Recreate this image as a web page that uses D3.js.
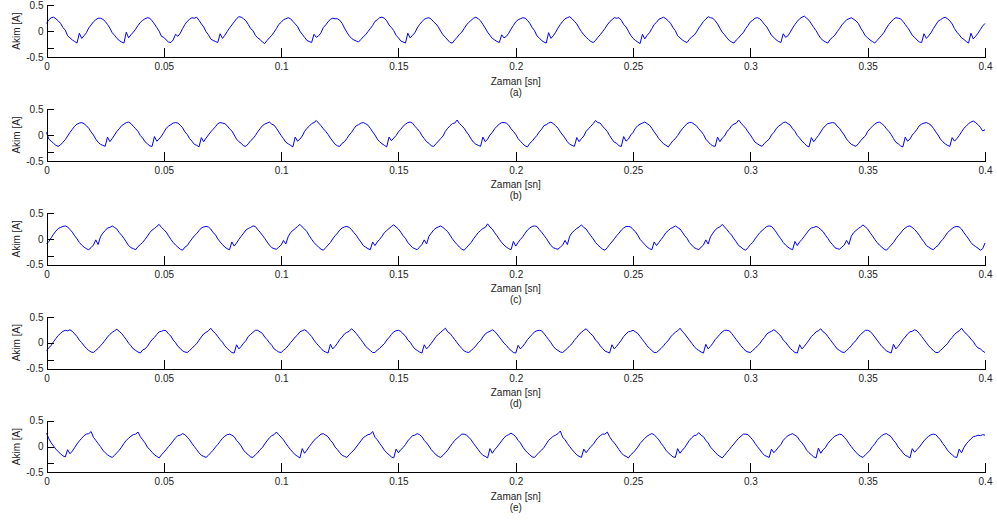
<!DOCTYPE html>
<html>
<head>
<meta charset="utf-8">
<script src="https://cdn.jsdelivr.net/npm/d3@7"></script>
<style>
  body { margin: 0; background: #fff; }
  svg { display: block; font-family: "Liberation Sans", Arial, sans-serif; }
  .axis text { font-size: 10px; fill: #222; }
  .axis path, .axis line { stroke: #000; shape-rendering: crispEdges; }
</style>
</head>
<body>
<script>
// sampling step of the measured current (s)
const dt = 0.001;

const xTicks = [0, 0.05, 0.1, 0.15, 0.2, 0.25, 0.3, 0.35, 0.4];
const yTicks = [-0.5, 0, 0.5];
const panelLabels = ['(a)', '(b)', '(c)', '(d)', '(e)'];

// one row = 20 ms (one cycle), values in A
const currentA = [
  .15,.22,.26,.27,.24,.20,.15,.07,.02,-.09,-.13,-.17,-.20,-.23,-.04,-.14,-.09,-.03,.06,.12,
  .18,.22,.25,.25,.23,.19,.13,.06,-.03,-.08,-.14,-.18,-.21,-.23,-.02,-.13,-.07,-.02,.04,.11,
  .17,.21,.24,.26,.25,.20,.14,.07,.00,-.10,-.12,-.17,-.21,-.22,-.17,-.06,-.10,-.04,.05,.13,
  .19,.23,.26,.25,.27,.21,.14,.08,-.01,-.07,-.15,-.18,-.20,-.22,-.05,-.14,-.08,-.01,.06,.12,
  .18,.24,.28,.27,.24,.20,.13,.05,.01,-.08,-.13,-.16,-.21,-.24,-.18,-.13,-.08,-.02,.05,.13,
  .17,.22,.24,.26,.24,.19,.14,.09,.00,-.06,-.12,-.18,-.20,-.22,-.06,-.12,-.09,-.03,.07,.12,
  .18,.23,.25,.24,.24,.21,.15,.06,-.02,-.09,-.14,-.17,-.19,-.21,-.16,-.11,-.07,-.01,.05,.11,
  .19,.22,.26,.27,.25,.20,.12,.07,.01,-.08,-.13,-.19,-.21,-.23,-.04,-.13,-.08,-.03,.06,.13,
  .18,.23,.25,.26,.23,.18,.14,.08,.00,-.07,-.12,-.17,-.22,-.23,-.17,-.12,-.06,-.02,.05,.12,
  .17,.21,.25,.27,.24,.20,.13,.06,-.02,-.08,-.14,-.17,-.20,-.22,-.07,-.13,-.10,-.04,.04,.11,
  .18,.22,.24,.26,.25,.21,.15,.07,.01,-.09,-.13,-.18,-.21,-.23,-.03,-.14,-.09,-.02,.06,.13,
  .19,.24,.26,.28,.24,.19,.14,.06,-.01,-.07,-.12,-.16,-.20,-.22,-.18,-.12,-.07,-.01,.05,.12,
  .18,.22,.26,.25,.26,.21,.13,.08,.00,-.08,-.14,-.18,-.21,-.24,-.06,-.15,-.08,-.03,.05,.13,
  .17,.23,.25,.27,.24,.20,.15,.07,.01,-.09,-.13,-.17,-.20,-.22,-.16,-.11,-.08,-.02,.06,.12,
  .19,.23,.28,.26,.25,.20,.14,.06,-.02,-.07,-.13,-.18,-.21,-.23,-.17,-.13,-.07,-.03,.05,.11,
  .18,.21,.25,.26,.24,.19,.13,.08,.00,-.08,-.12,-.17,-.20,-.22,-.05,-.12,-.09,-.02,.06,.13,
  .19,.24,.27,.29,.25,.21,.14,.07,.01,-.07,-.14,-.18,-.21,-.23,-.16,-.12,-.08,-.01,.05,.12,
  .17,.22,.24,.26,.23,.20,.15,.06,-.01,-.09,-.13,-.17,-.20,-.23,-.18,-.13,-.08,-.02,.06,.13,
  .18,.23,.26,.25,.24,.19,.13,.07,.00,-.08,-.12,-.17,-.21,-.22,-.05,-.14,-.09,-.03,.05,.12,
  .19,.22,.25,.27,.24,.20,.14,.05,-.02,-.07,-.13,-.16,-.20,-.23,-.04,-.15,-.10,-.04,.03,.10,
  .15
];

const currentB = [
  .05,-.08,-.12,-.16,-.20,-.22,-.19,-.14,-.09,-.02,.05,.11,.17,.21,.23,.24,.22,.18,.13,.06,
  .00,-.08,-.14,-.18,-.20,-.22,-.04,-.13,-.07,.00,.07,.12,.18,.21,.24,.25,.22,.17,.12,.07,
  -.01,-.06,-.13,-.17,-.21,-.22,-.03,-.12,-.08,-.02,.05,.13,.17,.20,.23,.24,.23,.19,.14,.06,
  .01,-.07,-.12,-.18,-.20,-.23,-.05,-.13,-.06,.00,.06,.11,.16,.22,.24,.23,.22,.18,.12,.08,
  .00,-.08,-.13,-.16,-.21,-.22,-.17,-.11,-.07,-.01,.06,.12,.18,.21,.23,.25,.21,.19,.13,.06,
  -.01,-.07,-.14,-.17,-.20,-.23,-.04,-.12,-.08,-.02,.07,.13,.17,.22,.24,.28,.23,.18,.12,.07,
  .01,-.06,-.12,-.18,-.21,-.22,-.16,-.13,-.07,.00,.05,.12,.18,.20,.23,.24,.22,.19,.13,.06,
  .00,-.08,-.13,-.17,-.20,-.23,-.04,-.11,-.06,-.01,.06,.11,.17,.21,.24,.25,.23,.17,.12,.07,
  -.01,-.07,-.13,-.16,-.21,-.22,-.17,-.12,-.07,-.02,.07,.13,.18,.22,.23,.29,.22,.18,.13,.06,
  .00,-.08,-.14,-.18,-.20,-.22,-.04,-.13,-.08,.00,.05,.12,.17,.21,.24,.24,.23,.19,.12,.07,
  .01,-.07,-.12,-.17,-.21,-.23,-.16,-.12,-.06,-.01,.06,.11,.18,.20,.23,.25,.22,.18,.13,.06,
  .00,-.06,-.13,-.18,-.20,-.22,-.05,-.13,-.07,-.02,.07,.12,.17,.22,.28,.24,.23,.17,.12,.07,
  -.01,-.08,-.14,-.16,-.21,-.22,-.03,-.12,-.08,.00,.05,.13,.18,.21,.23,.25,.22,.19,.13,.06,
  .00,-.07,-.12,-.17,-.20,-.23,-.17,-.11,-.07,-.01,.06,.12,.17,.22,.24,.24,.21,.18,.12,.07,
  .01,-.08,-.13,-.18,-.21,-.22,-.04,-.13,-.06,-.02,.07,.11,.18,.21,.23,.29,.23,.18,.13,.06,
  .00,-.07,-.14,-.17,-.20,-.22,-.16,-.12,-.08,.00,.05,.12,.17,.20,.24,.25,.22,.19,.12,.07,
  -.01,-.06,-.12,-.16,-.21,-.23,-.05,-.13,-.07,-.01,.06,.13,.18,.22,.23,.24,.23,.17,.13,.06,
  .00,-.08,-.13,-.18,-.20,-.22,-.17,-.11,-.06,-.02,.07,.12,.17,.21,.24,.25,.22,.18,.12,.07,
  .01,-.07,-.14,-.17,-.21,-.23,-.04,-.12,-.08,.00,.05,.11,.18,.21,.23,.24,.22,.19,.13,.06,
  .00,-.08,-.13,-.17,-.20,-.22,-.05,-.12,-.07,-.01,.06,.13,.17,.22,.25,.27,.24,.20,.15,.08,
  .10
];

const currentC = [
  -.10,-.05,.02,.09,.15,.20,.22,.24,.25,.23,.18,.13,.06,.00,-.07,-.12,-.16,-.19,-.21,-.17,
  -.12,-.02,-.11,.04,.11,.16,.21,.22,.25,.22,.19,.12,.07,.01,-.06,-.13,-.17,-.19,-.21,-.15,
  -.11,-.07,-.01,.05,.12,.17,.20,.24,.28,.22,.18,.13,.06,-.01,-.07,-.12,-.16,-.20,-.22,-.16,
  -.13,-.06,.00,.06,.10,.16,.21,.23,.24,.23,.19,.12,.08,.00,-.06,-.11,-.16,-.19,-.21,-.06,
  -.14,-.08,-.01,.05,.11,.17,.20,.22,.25,.24,.18,.13,.07,.01,-.06,-.12,-.17,-.19,-.20,-.16,
  -.12,-.03,-.10,.04,.12,.16,.20,.24,.28,.23,.19,.14,.06,-.01,-.07,-.12,-.16,-.20,-.22,-.17,
  -.12,-.07,.00,.06,.11,.17,.21,.23,.24,.22,.18,.12,.07,.00,-.06,-.13,-.16,-.19,-.21,-.06,
  -.13,-.06,-.01,.05,.12,.16,.20,.24,.27,.23,.19,.13,.06,.01,-.07,-.12,-.17,-.19,-.21,-.16,
  -.11,-.02,-.10,.05,.11,.17,.21,.23,.25,.22,.18,.14,.07,.00,-.06,-.11,-.16,-.20,-.22,-.17,
  -.12,-.07,.00,.06,.12,.16,.20,.22,.29,.23,.19,.12,.06,-.01,-.07,-.12,-.16,-.19,-.21,-.05,
  -.14,-.07,-.01,.04,.11,.17,.21,.24,.25,.24,.18,.13,.07,.01,-.06,-.13,-.17,-.19,-.20,-.16,
  -.12,-.03,-.11,.05,.12,.16,.20,.23,.27,.22,.19,.12,.06,.00,-.07,-.12,-.16,-.20,-.22,-.17,
  -.11,-.06,.00,.06,.11,.17,.21,.24,.24,.23,.18,.14,.07,-.01,-.06,-.11,-.16,-.19,-.21,-.06,
  -.13,-.07,-.01,.05,.12,.16,.20,.22,.25,.22,.19,.13,.06,.01,-.07,-.12,-.17,-.19,-.21,-.16,
  -.12,-.02,-.10,.04,.11,.17,.21,.23,.28,.23,.18,.12,.07,.00,-.06,-.13,-.16,-.20,-.22,-.17,
  -.11,-.07,.00,.06,.12,.16,.20,.24,.25,.24,.19,.13,.06,.00,-.07,-.12,-.16,-.19,-.21,-.05,
  -.13,-.06,-.01,.05,.11,.17,.21,.22,.24,.22,.18,.14,.07,.01,-.06,-.11,-.17,-.19,-.20,-.16,
  -.12,-.03,-.11,.05,.12,.16,.20,.23,.27,.23,.19,.12,.06,-.01,-.07,-.12,-.16,-.20,-.22,-.17,
  -.12,-.07,.00,.06,.11,.17,.21,.24,.25,.22,.18,.13,.07,.00,-.06,-.13,-.16,-.19,-.21,-.16,
  -.13,-.06,-.01,.05,.12,.16,.20,.23,.24,.23,.19,.12,.06,.00,-.07,-.12,-.15,-.18,-.22,-.19,
  -.08
];

const currentD = [
  -.15,-.10,-.05,.02,.08,.14,.18,.22,.24,.23,.25,.22,.17,.12,.05,.00,-.06,-.11,-.15,-.18,
  -.19,-.15,-.11,-.06,-.01,.05,.11,.16,.20,.23,.26,.22,.18,.12,.06,-.01,-.06,-.12,-.15,-.18,
  -.20,-.14,-.12,-.07,.00,.06,.10,.16,.21,.22,.24,.23,.17,.13,.05,.00,-.07,-.11,-.16,-.18,
  -.19,-.15,-.11,-.06,-.02,.05,.11,.17,.20,.23,.28,.22,.18,.12,.06,.01,-.06,-.11,-.15,-.19,
  -.20,-.04,-.12,-.07,-.01,.04,.12,.16,.20,.24,.24,.21,.18,.11,.06,.00,-.05,-.12,-.15,-.18,
  -.19,-.15,-.11,-.06,.00,.05,.11,.15,.21,.23,.25,.22,.17,.12,.05,-.01,-.06,-.11,-.16,-.18,
  -.20,-.03,-.12,-.07,-.01,.06,.11,.17,.20,.22,.27,.23,.18,.12,.06,.00,-.07,-.11,-.15,-.19,
  -.19,-.14,-.11,-.06,-.02,.05,.10,.16,.21,.23,.24,.22,.17,.13,.05,.01,-.06,-.12,-.15,-.18,
  -.20,-.04,-.12,-.07,-.01,.05,.12,.16,.20,.24,.28,.21,.18,.12,.06,.00,-.06,-.11,-.16,-.18,
  -.19,-.15,-.11,-.06,.00,.04,.11,.17,.20,.22,.25,.22,.17,.11,.05,-.01,-.05,-.11,-.15,-.19,
  -.20,-.05,-.12,-.07,-.01,.06,.11,.16,.21,.23,.24,.23,.18,.12,.06,.00,-.07,-.12,-.15,-.18,
  -.19,-.15,-.11,-.06,-.02,.05,.10,.16,.20,.24,.27,.22,.17,.13,.05,.01,-.06,-.11,-.16,-.18,
  -.20,-.04,-.12,-.07,-.01,.05,.12,.17,.21,.22,.24,.21,.18,.12,.06,.00,-.06,-.11,-.15,-.19,
  -.19,-.15,-.11,-.06,.00,.04,.11,.16,.20,.23,.28,.22,.17,.11,.05,-.01,-.07,-.12,-.15,-.18,
  -.20,-.03,-.12,-.07,-.01,.06,.11,.16,.21,.24,.24,.23,.18,.12,.06,.00,-.06,-.11,-.16,-.18,
  -.19,-.15,-.11,-.06,-.02,.05,.10,.17,.20,.22,.25,.22,.17,.13,.05,.01,-.05,-.11,-.15,-.19,
  -.20,-.04,-.12,-.07,-.01,.05,.12,.16,.21,.23,.27,.21,.18,.12,.06,.00,-.06,-.12,-.15,-.18,
  -.19,-.15,-.11,-.06,.00,.04,.11,.16,.20,.24,.24,.22,.17,.11,.05,-.01,-.07,-.11,-.16,-.18,
  -.20,-.03,-.12,-.07,-.01,.06,.11,.17,.21,.22,.25,.23,.18,.12,.06,.00,-.06,-.11,-.15,-.19,
  -.19,-.15,-.11,-.06,-.02,.05,.10,.16,.20,.23,.28,.22,.17,.13,.07,.02,-.05,-.10,-.12,-.16,
  -.19
];

const currentE = [
  .26,.15,.07,.01,-.05,-.10,-.14,-.18,-.20,-.06,-.14,-.09,-.02,.05,.11,.16,.21,.24,.25,.29,
  .18,.12,.06,.00,-.07,-.12,-.16,-.19,-.21,-.17,-.12,-.07,-.01,.06,.12,.16,.20,.23,.24,.28,
  .19,.13,.07,-.01,-.06,-.11,-.16,-.19,-.22,-.16,-.11,-.06,.00,.05,.11,.17,.21,.22,.25,.23,
  .18,.13,.06,.00,-.06,-.12,-.17,-.19,-.21,-.17,-.12,-.07,-.01,.04,.10,.16,.20,.23,.24,.22,
  .19,.12,.07,.01,-.07,-.12,-.16,-.20,-.21,-.16,-.12,-.06,-.02,.05,.11,.17,.21,.23,.28,.23,
  .18,.13,.06,.00,-.06,-.11,-.16,-.19,-.22,-.04,-.13,-.07,.00,.06,.12,.16,.20,.24,.25,.22,
  .19,.12,.07,-.01,-.06,-.12,-.17,-.19,-.21,-.16,-.11,-.07,-.01,.05,.11,.17,.20,.23,.24,.29,
  .18,.13,.06,.00,-.07,-.12,-.16,-.20,-.22,-.05,-.12,-.06,-.02,.04,.11,.16,.21,.22,.25,.23,
  .19,.12,.07,.01,-.06,-.11,-.16,-.19,-.21,-.17,-.12,-.07,.00,.06,.12,.16,.20,.24,.24,.22,
  .18,.13,.06,.00,-.06,-.12,-.17,-.19,-.22,-.04,-.13,-.06,-.01,.05,.11,.17,.21,.23,.26,.23,
  .19,.12,.07,-.01,-.07,-.12,-.16,-.20,-.21,-.16,-.11,-.07,-.02,.05,.12,.16,.20,.22,.25,.30,
  .18,.13,.06,.00,-.06,-.11,-.16,-.19,-.21,-.05,-.12,-.06,.00,.04,.11,.17,.21,.24,.24,.28,
  .19,.12,.07,.01,-.06,-.12,-.17,-.19,-.22,-.16,-.12,-.07,-.01,.06,.11,.16,.20,.23,.25,.23,
  .18,.13,.06,.00,-.07,-.12,-.16,-.20,-.21,-.04,-.13,-.07,-.02,.05,.12,.17,.21,.22,.27,.22,
  .19,.12,.07,-.01,-.06,-.11,-.16,-.19,-.22,-.17,-.11,-.06,.00,.05,.11,.16,.20,.24,.24,.23,
  .18,.13,.06,.00,-.06,-.12,-.17,-.19,-.21,-.05,-.12,-.07,-.01,.04,.12,.17,.21,.23,.25,.22,
  .19,.12,.07,.01,-.07,-.12,-.16,-.20,-.22,-.03,-.13,-.06,-.02,.06,.11,.16,.20,.22,.24,.23,
  .18,.13,.06,.00,-.06,-.11,-.16,-.19,-.21,-.16,-.12,-.07,.00,.05,.12,.17,.21,.24,.25,.22,
  .19,.12,.07,-.01,-.06,-.12,-.17,-.19,-.22,-.04,-.11,-.06,-.01,.05,.11,.16,.20,.23,.24,.23,
  .18,.13,.06,.00,-.07,-.12,-.16,-.20,-.21,-.05,-.12,-.02,.05,.10,.15,.19,.20,.22,.21,.23,
  .22
];

const series = [currentA, currentB, currentC, currentD, currentE];

const svgWidth = 997;
const svgHeight = 521;

// plot area of the first panel, the others are stacked below
const left = 46.5, right = 985;
const firstTop = 5.3, panelH = 51.7, pitch = 103.85;

const svg = d3.select('body')
  .append('svg')
  .attr('width', svgWidth)
  .attr('height', svgHeight);

const x = d3.scaleLinear()
  .domain([0, 0.4])
  .range([left, right]);

const line = d3.line()
  .x((d, i) => x(i * dt))
  .y(d => d.y);

series.forEach(function(vals, k) {
  const top = firstTop + k * pitch;
  const bottom = top + panelH;

  const y = d3.scaleLinear()
    .domain([-0.5, 0.5])
    .range([bottom, top]);

  const g = svg.append('g').attr('class', 'panel');

  // waveform
  g.append('path')
    .datum(vals.map(v => ({y: y(v)})))
    .attr('fill', 'none')
    .attr('stroke', '#0000ff')
    .attr('stroke-width', 1)
    .attr('stroke-linejoin', 'round')
    .attr('d', line);

  // x axis, ticks pointing in
  g.append('g')
    .attr('class', 'axis')
    .attr('transform', 'translate(0,' + bottom + ')')
    .call(d3.axisBottom(x)
      .tickValues(xTicks)
      .tickFormat(d => String(d))
      .tickSizeInner(-9)
      .tickSizeOuter(0)
      .tickPadding(6));

  // y axis, ticks pointing in
  g.append('g')
    .attr('class', 'axis')
    .attr('transform', 'translate(' + left + ',0)')
    .call(d3.axisLeft(y)
      .tickValues(yTicks)
      .tickFormat(d => String(d))
      .tickSizeInner(-7)
      .tickSizeOuter(0)
      .tickPadding(3));

  // small stray tick seen just above the lower left corner
  g.append('line')
    .attr('x1', left).attr('x2', left + 7)
    .attr('y1', Math.round(bottom - 9) + 0.5).attr('y2', Math.round(bottom - 9) + 0.5)
    .attr('stroke', '#000')
    .style('shape-rendering', 'crispEdges');

  g.append('text')
    .attr('transform', 'translate(19.5,' + (top + panelH / 2) + ') rotate(-90)')
    .attr('text-anchor', 'middle')
    .style('font-size', '10px')
    .attr('fill', '#222')
    .text('Akim [A]');

  g.append('text')
    .attr('x', (left + right) / 2)
    .attr('y', bottom + 27.5)
    .attr('text-anchor', 'middle')
    .style('font-size', '10px')
    .attr('fill', '#222')
    .text('Zaman [sn]');

  g.append('text')
    .attr('x', (left + right) / 2)
    .attr('y', bottom + 38.5)
    .attr('text-anchor', 'middle')
    .style('font-size', '10px')
    .attr('fill', '#222')
    .text(panelLabels[k]);
});
</script>
</body>
</html>
